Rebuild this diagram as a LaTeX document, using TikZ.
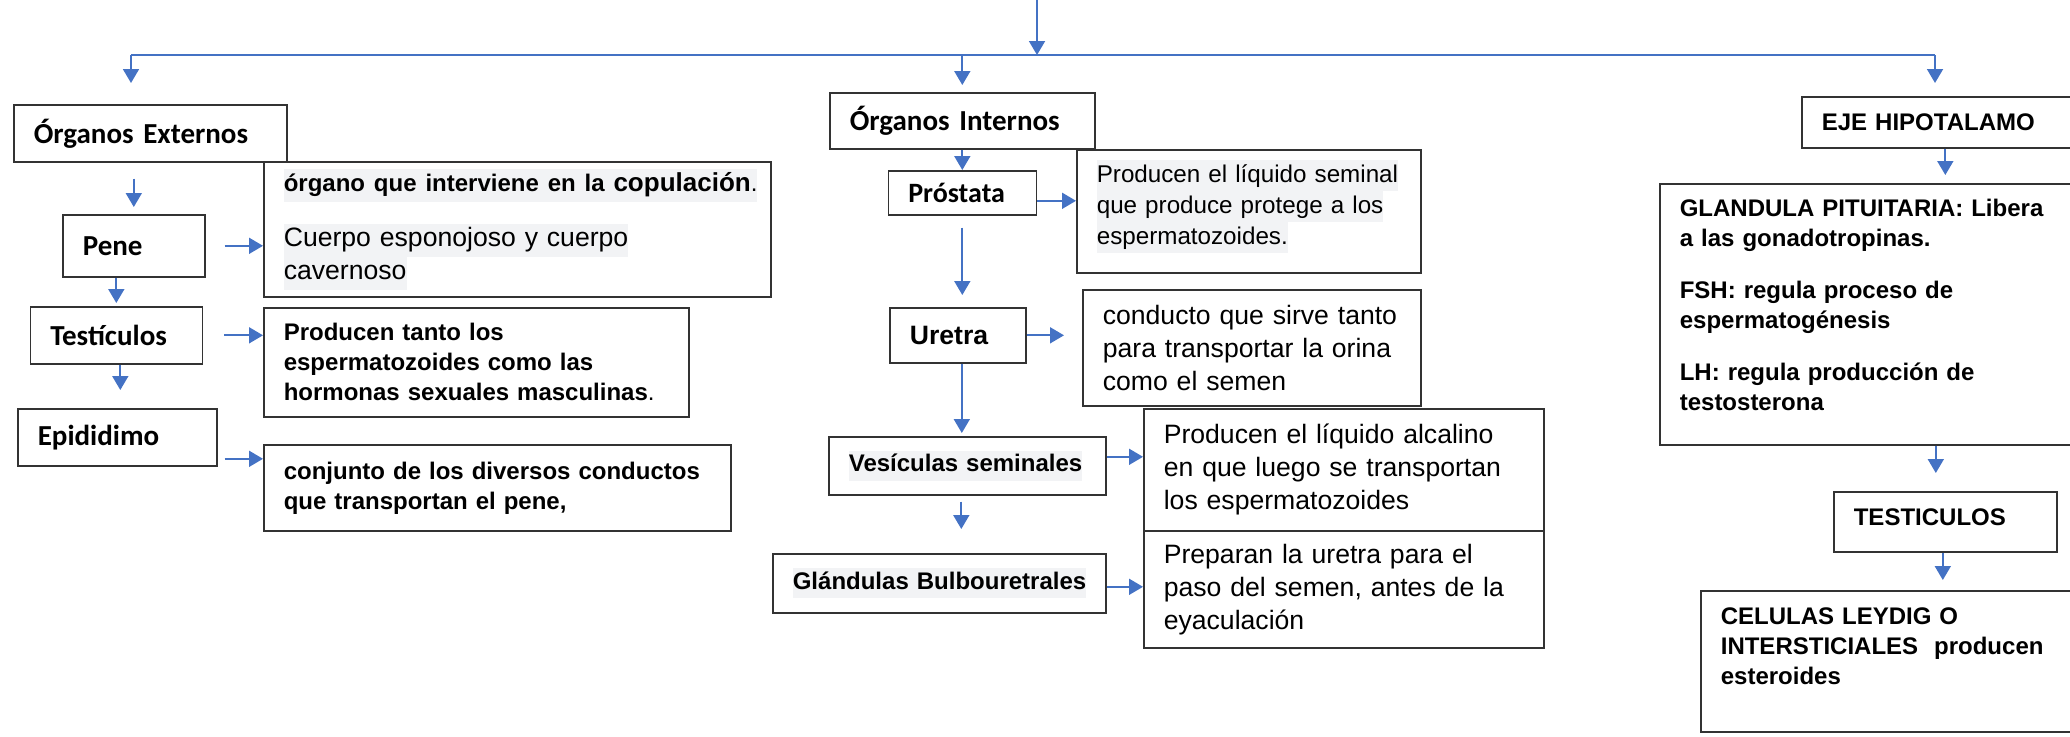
\documentclass[tikz,border=0pt]{standalone}
\usepackage{fontspec}
\setmainfont{Liberation Sans}
\newfontfamily\calibri{Carlito}
\usetikzlibrary{arrows.meta}

\definecolor{azul}{HTML}{4472C4}
\definecolor{resalte}{HTML}{F2F3F5}

\newcommand{\letraTitulo}{\calibri\bfseries\fontsize{14.5}{18}\selectfont}
\newcommand{\letraNegrita}{\bfseries\fontsize{12}{15}\selectfont}
\newcommand{\letraNormal}{\fontsize{13.3}{16.5}\selectfont}
\newcommand{\resaltado}[1]{{\setlength{\fboxsep}{0pt}\colorbox{resalte}{\strut #1}}}

\begin{document}
\begin{tikzpicture}[x=0.5pt,y=-0.5pt]

      \tikzstyle{Caja} = [
      rectangle,
      draw=black!80,
      line width=0.8pt,
      fill=white,
      anchor=north west,
      inner xsep=10pt,
      inner ysep=0pt,
      align=left
      ]
      \tikzstyle{Titulo} = [Caja, font=\letraTitulo]
      \tikzstyle{Texto} = [Caja, font=\letraNormal]
      \tikzstyle{TextoNegrita} = [Caja, font=\letraNegrita]
      \tikzstyle{Flecha} = [draw=azul, line width=0.9pt, -{Triangle[length=7pt,width=8pt]}]
      \tikzstyle{Linea} = [draw=azul, line width=0.9pt]

      \useasboundingbox (0,0) rectangle (2070,736);
      \clip (0,0) rectangle (2070,736);

      \node (OrganosExternos) [Titulo, text width=116.5pt, minimum height=28.5pt] at (13,104) {Órganos Externos};
      \node (Pene) [Titulo, text width=51pt, minimum height=31pt] at (62,214) {Pene};
      \node (Testiculos) [Titulo, text width=66pt, minimum height=28.5pt] at (29.5,306) {Testículos};
      \node (Epididimo) [Titulo, text width=79.5pt, minimum height=28.5pt] at (17,408) {Epididimo};

      \node (InfoPene) [Texto, text width=233.5pt, minimum height=67.5pt] at (263,161) {
        \resaltado{\letraNegrita órgano que interviene en la {\fontsize{13}{15}\selectfont copulación}{\mdseries .}}\\[11pt]
        \resaltado{Cuerpo esponojoso y cuerpo}\\
        \resaltado{cavernoso}
      };
      \node (InfoTesticulos) [TextoNegrita, text width=192.5pt, minimum height=54.5pt] at (263,307) {
        Producen tanto los\\
        espermatozoides como las\\
        hormonas sexuales masculinas{\mdseries .}
      };
      \node (InfoEpididimo) [TextoNegrita, text width=213.5pt, minimum height=43pt] at (263,444) {
        conjunto de los diversos conductos\\
        que transportan el pene,
      };

      \node (OrganosInternos) [Titulo, text width=112.5pt, minimum height=28pt] at (829,92) {Órganos Internos};
      \node (Prostata) [Titulo, text width=54pt, minimum height=22pt, font=\calibri\bfseries\fontsize{14}{17}\selectfont] at (887.5,170) {Próstata};
      \node (InfoProstata) [Texto, text width=152pt, minimum height=61.5pt, font=\fontsize{12.1}{15.5}\selectfont] at (1076,149) {
        \resaltado{Producen el líquido seminal}\\
        \resaltado{que produce protege a los}\\
        \resaltado{espermatozoides.}\rule[-9pt]{0pt}{9pt}
      };
      \node (Uretra) [TextoNegrita, text width=48pt, minimum height=27.5pt, font=\bfseries\fontsize{13.3}{16}\selectfont] at (889,307) {Uretra};
      \node (InfoUretra) [Texto, text width=149pt, minimum height=58pt] at (1082,289) {
        conducto que sirve tanto\\
        para transportar la orina\\
        como el semen
      };
      \node (Vesiculas) [TextoNegrita, text width=118.5pt, minimum height=29pt] at (828,436) {\resaltado{Vesículas seminales}};
      \node (InfoVesiculas) [Texto, text width=180pt, minimum height=61pt] at (1143,408) {
        Producen el líquido alcalino\\
        en que luego se transportan\\
        los espermatozoides
      };
      \node (Glandulas) [TextoNegrita, text width=146.5pt, minimum height=29.5pt] at (772,553) {\resaltado{Glándulas Bulbouretrales}};
      \node (InfoGlandulas) [Texto, text width=180pt, minimum height=58.5pt] at (1143,530) {
        Preparan la uretra para el\\
        paso del semen, antes de la\\
        eyaculación
      };

      \node (EjeHipotalamo) [TextoNegrita, text width=119.5pt, minimum height=25.5pt] at (1801,96) {EJE HIPOTALAMO};
      \node (Pituitaria) [TextoNegrita, text width=188pt, minimum height=130.5pt] at (1659,183) {
        GLANDULA PITUITARIA: Libera\\
        a las gonadotropinas.\\[11pt]
        FSH: regula proceso de\\
        espermatogénesis\\[11pt]
        LH: regula producción de\\
        testosterona\rule[-9.5pt]{0pt}{9.5pt}
      };
      \node (TesticulosEje) [TextoNegrita, text width=91.5pt, minimum height=30pt] at (1833,491) {TESTICULOS\rule[-5pt]{0pt}{5pt}};
      \node (CelulasLeydig) [TextoNegrita, text width=167.5pt, minimum height=70.5pt] at (1700,590) {
        CELULAS LEYDIG O\\
        INTERSTICIALES\ \ producen\\
        esteroides\rule[-15pt]{0pt}{15pt}
      };

      \coordinate (Raiz) at (1037,0);
      \coordinate (BarraIzq) at (131,55);
      \coordinate (BarraDer) at (1935,55);

      \draw [Flecha] (Raiz) -- (Raiz |- BarraIzq);
      \draw [Linea] (BarraIzq) -- (BarraDer);
      \draw [Flecha] (BarraIzq) -- ([yshift=10.5pt]BarraIzq |- OrganosExternos.north);
      \draw [Flecha] (OrganosInternos.north |- BarraIzq) -- ([yshift=3.5pt]OrganosInternos.north);
      \draw [Flecha] (BarraDer) -- ([yshift=6.5pt]BarraDer |- EjeHipotalamo.north);

      \draw [Flecha] ([yshift=-8pt]Pene.north |- OrganosExternos.south) -- ([yshift=3.5pt]Pene.north);
      \draw [Flecha] (Testiculos.north |- Pene.south) -- ([yshift=1.5pt]Testiculos.north);
      \draw [Flecha] ([xshift=2pt]Testiculos.south) -- ([xshift=2pt,yshift=9pt]Testiculos.south |- Epididimo.north);
      \draw [Flecha] ([xshift=9.5pt]Pene.east) -- (Pene.east -| InfoPene.west);
      \draw [Flecha] ([xshift=10.5pt]Testiculos.east) -- (Testiculos.east -| InfoTesticulos.west);
      \draw [Flecha] ([xshift=3.5pt,yshift=-10.75pt]Epididimo.east) -- ([yshift=-10.75pt]Epididimo.east -| InfoEpididimo.west);

      \draw [Flecha] (OrganosInternos.south) -- (Prostata.north);
      \draw [Flecha] ([yshift=-4pt]Prostata.east) -- ([yshift=-4pt]Prostata.east -| InfoProstata.west);
      \draw [Flecha] ([yshift=-6pt]Prostata.south) -- ([yshift=6pt]Prostata.south |- Uretra.north);
      \draw [Flecha] (Uretra.east) -- ([xshift=-9pt]Uretra.east -| InfoUretra.west);
      \draw [Flecha] ([xshift=2pt]Uretra.south) -- ([xshift=2pt,yshift=1.5pt]Uretra.south |- Vesiculas.north);
      \draw [Flecha] ([yshift=4.5pt]Vesiculas.east) -- ([yshift=4.5pt]Vesiculas.east -| InfoVesiculas.west);
      \draw [Flecha] ([xshift=-3pt,yshift=-3pt]Vesiculas.south) -- ([xshift=-3pt,yshift=12pt]Vesiculas.south |- Glandulas.north);
      \draw [Flecha] ([yshift=-1.75pt]Glandulas.east) -- ([yshift=-1.75pt]Glandulas.east -| InfoGlandulas.west);

      \draw [Flecha] ([xshift=2pt]EjeHipotalamo.south) -- ([xshift=2pt,yshift=4pt]EjeHipotalamo.south |- Pituitaria.north);
      \draw [Flecha] ([xshift=-4.75pt]TesticulosEje.north |- Pituitaria.south) -- ([xshift=-4.75pt,yshift=9pt]TesticulosEje.north);
      \draw [Flecha] ([xshift=-1.25pt]TesticulosEje.south) -- ([xshift=-1.25pt,yshift=5pt]TesticulosEje.south |- CelulasLeydig.north);

    \end{tikzpicture}
\end{document}
